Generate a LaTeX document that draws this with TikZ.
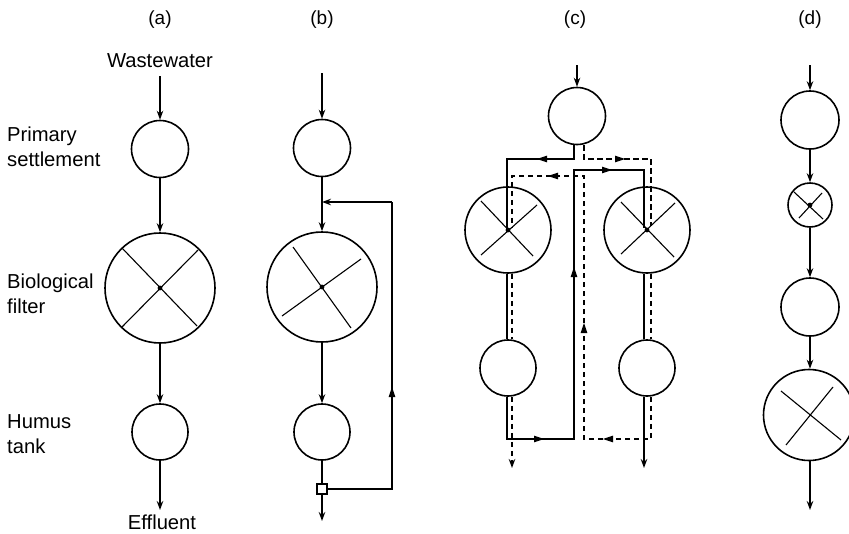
\documentclass[tikz,border=0pt]{standalone}
\usepackage{fontspec}
\setmainfont{Liberation Sans}
\usetikzlibrary{arrows.meta,decorations.markings}
\tikzset{
  x=1pt,y=-1pt,
  vessel/.style={circle,draw,line width=1.6pt,inner sep=0pt,minimum size=#1},
  conn/.style={line width=1.5pt},
  heavy/.style={line width=1.8pt},
  dconn/.style={line width=1.6pt,dash pattern=on 5.5pt off 3.5pt},
  spoke/.style={line width=1.1pt},
  lab/.style={font=\fontsize{20.2}{25}\selectfont,align=left,anchor=west,inner sep=0pt},
  ttl/.style={font=\fontsize{19}{23}\selectfont,inner sep=0pt},
  tip/.style={-{Stealth[length=9pt,width=6.5pt]}},
}
\newcommand{\tipat}[3]{\fill[shift={(#1,#2)},rotate=#3] (-5,-3.4) -- (5,0) -- (-5,3.4) -- cycle;}
\begin{document}
\begin{tikzpicture}
\useasboundingbox (0,0) rectangle (849,533);
% titles and labels
\node[ttl] (ta) at (160,20) {(a)};
\node[ttl] (tb) at (322,20) {(b)};
\node[ttl] (tc) at (575,20) {(c)};
\node[ttl] (td) at (810,20) {(d)};
\node[ttl,font=\fontsize{20.2}{24}\selectfont] (ww) at (160,61) {Wastewater};
\node[ttl,font=\fontsize{20.2}{24}\selectfont] (ef) at (162,522) {Effluent};
\node[lab] (ps) at (7,147) {Primary\\settlement};
\node[lab] (bf) at (7,294) {Biological\\filter};
\node[lab] (ht) at (7,434) {Humus\\tank};
% (a)
\coordinate (a0) at (160,76);
\node[vessel=57pt] (a1) at (160,149) {};
\node[vessel=110pt] (a2) at (160,288) {};
\node[vessel=56pt] (a3) at (160,432) {};
\coordinate (a4) at (160,510);
\draw[conn,tip] (a0) -- (a1);
\draw[conn,tip] (a1) -- (a2);
\draw[conn,tip] (a2) -- (a3);
\draw[conn,tip] (a3) -- (a4);
\draw[spoke] (122,248) -- (197,326) (198,250) -- (122,327);
\fill (a2) circle (2.4pt);
% (b)
\coordinate (b0) at (322,73);
\node[vessel=57pt] (b1) at (322,148) {};
\node[vessel=110pt] (b2) at (322,287) {};
\node[vessel=56pt] (b3) at (322,432) {};
\node[draw,line width=1.6pt,minimum size=10pt,inner sep=0pt] (bs) at (322,489) {};
\coordinate (b4) at (322,521);
\coordinate (br1) at (392,489);
\coordinate (br2) at (392,202);
\coordinate (bj) at (322,202);
\draw[conn,tip] (b0) -- (b1);
\draw[conn,tip] (b1) -- (b2);
\draw[conn,tip] (b2) -- (b3);
\draw[conn] (b3) -- (bs);
\draw[conn,tip] (bs) -- (b4);
\draw[conn] (bs) -- (br1) -- (br2);
\draw[conn,tip] (br2) -- (bj);
\tipat{392}{392}{90}
\draw[spoke] (293,247) -- (351,328) (361,259) -- (282,316);
\fill (b2) circle (2.4pt);
% (c)
\coordinate (c0) at (577,65);
\node[vessel=57pt] (c1) at (577,116) {};
\node[vessel=86pt] (cl) at (508,230) {};
\node[vessel=86pt] (cr) at (647,230) {};
\node[vessel=56pt] (cm) at (508,368) {};
\node[vessel=56pt] (cn) at (647,368) {};
\draw[conn,tip] (c0) -- (c1);
\coordinate (s1) at (574,159);
\coordinate (s2) at (507,159);
\coordinate (s3) at (507,230);
\coordinate (d1) at (584,159);
\coordinate (d2) at (651,159);
\coordinate (d3) at (651,226);
\coordinate (e1) at (574,170);
\coordinate (e2) at (644,170);
\coordinate (e3) at (644,228);
\coordinate (f1) at (584,176);
\coordinate (f2) at (512,176);
\coordinate (f3) at (512,228);
\coordinate (g1) at (507,439);
\coordinate (g2) at (574,439);
\coordinate (g3) at (546,439);
\coordinate (h1) at (651,439);
\coordinate (h2) at (584,439);
\coordinate (i1) at (512,468);
\coordinate (i2) at (644,468);
% dashed streams
\draw[dconn] (d1 |- c1.south) -- (d1) -- (d2) -- (d3);
\draw[dconn] (f3 |- cl.south) -- (f3 |- cm.north);
\draw[dconn] (d2 |- cr.south) -- (d2 |- cn.north);
\draw[dconn,tip] (f3 |- cm.south) -- (i1);
\draw[dconn] (d2 |- cn.south) -- (h1) -- (h2) -- (f1) -- (f2) -- (f3);
\draw[dconn] (g1) -- (g3);
% solid streams
\draw[heavy] (s1 |- c1.south) -- (s1) -- (s2) -- (s3);
\draw[heavy] (s2 |- cl.south) -- (s2 |- cm.north);
\draw[heavy] (e2 |- cr.south) -- (e2 |- cn.north);
\draw[heavy] (s2 |- cm.south) -- (g1) -- (g2) -- (e1) -- (e2) -- (e3);
\draw[heavy,tip] (e2 |- cn.south) -- (i2);
% flow marks
\tipat{542}{159}{180}
\tipat{620}{159}{0}
\tipat{607}{170}{0}
\tipat{553}{176}{180}
\tipat{574}{272}{90}
\tipat{584}{328}{90}
\tipat{539}{439}{0}
\tipat{608}{439}{180}
\draw[spoke] (481,201) -- (533,256) (537,205) -- (481,255);
\draw[spoke] (621,202) -- (674,257) (675,203) -- (621,254);
\fill (cl) circle (2.4pt);
\fill (cr) circle (2.4pt);
% (d)
\coordinate (d0) at (810,65);
\node[vessel=58pt] (v1) at (810,120) {};
\node[vessel=44pt] (v2) at (810,205) {};
\node[vessel=58pt] (v3) at (810,307) {};
\node[vessel=91pt] (v4) at (809,415) {};
\coordinate (v5) at (810,510);
\draw[conn,tip] (d0) -- (v1);
\draw[conn,tip] (v1) -- (v2);
\draw[conn,tip] (v2) -- (v3);
\draw[conn,tip] (v3) -- (v3 |- v4.north);
\draw[conn,tip] (v5 |- v4.south) -- (v5);
\draw[spoke] (794,192) -- (823,219) (822,193) -- (799,218);
\fill (v2) circle (2.4pt);
\draw[spoke] (781,391) -- (841,440) (833,387) -- (786,445);
\end{tikzpicture}
\end{document}
